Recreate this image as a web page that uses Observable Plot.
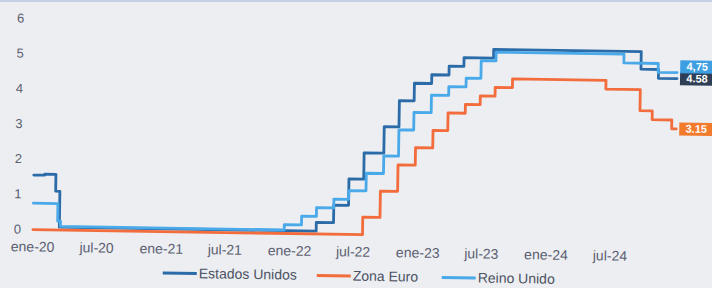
<!DOCTYPE html>
<html>
<head>
<meta charset="utf-8">
<script src="https://cdn.jsdelivr.net/npm/d3@7"></script>
<script src="https://cdn.jsdelivr.net/npm/@observablehq/plot@0.6"></script>
<style>
  html, body { margin: 0; padding: 0; background: #eceef2; overflow: hidden; }
  body { width: 712px; height: 288px; border-top: 2px solid #c3d0e6; box-sizing: border-box; }
  #wrap { position: relative; width: 712px; height: 286px; transform: rotate(0.9deg); transform-origin: 0 0; font-family: "Liberation Sans", Arial, sans-serif; }
  #legend { position: absolute; top: 259px; left: 0; width: 712px; height: 18px; font-size: 14px; color: #4d5363; }
  .item { position: absolute; top: 0; display: flex; align-items: center; height: 18px; }
  .sw { width: 34px; height: 3px; margin-right: 2px; }
</style>
</head>
<body>
<div id="wrap"><div id="chart"></div><div id="legend"></div></div>
<script>
// ---- data ----
const seriesNames = ["Estados Unidos", "Zona Euro", "Reino Unido"];
const seriesColors = ["#2b6ba8", "#f26c3c", "#4aa9e8"];
const labelColors = ["#2e3e55", "#f27a2c", "#3d9fe2"];
const endLabels = ["4.58", "3.15", "4,75"];

const usDates = ["2020-01-01","2020-02-01","2020-03-04","2020-03-16","2022-03-17","2022-05-05","2022-06-16","2022-07-28","2022-09-22","2022-11-03","2022-12-15","2023-02-02","2023-03-23","2023-05-04","2023-07-27","2024-09-19","2024-11-08","2024-12-31"];
const usRates = [1.55,1.58,1.10,0.08,0.33,0.83,1.58,2.33,3.08,3.83,4.33,4.58,4.83,5.08,5.33,4.83,4.58,4.58];

const euDates = ["2020-01-01","2022-07-27","2022-09-14","2022-11-02","2022-12-21","2023-02-08","2023-03-22","2023-05-10","2023-06-21","2023-08-02","2023-09-20","2024-06-12","2024-09-18","2024-10-23","2024-12-18","2024-12-31"];
const euRates = [0,0.5,1.25,2.0,2.5,3.0,3.5,3.75,4.0,4.25,4.5,4.25,3.65,3.4,3.15,3.15];

const ukDates = ["2020-01-01","2020-03-11","2020-03-19","2021-12-16","2022-02-03","2022-03-17","2022-05-05","2022-06-16","2022-08-04","2022-09-22","2022-11-03","2022-12-15","2023-02-02","2023-03-23","2023-05-11","2023-06-22","2023-08-03","2024-08-01","2024-11-07","2024-12-31"];
const ukRates = [0.75,0.25,0.10,0.25,0.5,0.75,1.0,1.25,1.75,2.25,3.0,3.5,4.0,4.25,4.5,5.0,5.25,5.0,4.75,4.75];

const tickDates = ["2020-01-01","2020-07-01","2021-01-01","2021-07-01","2022-01-01","2022-07-01","2023-01-01","2023-07-01","2024-01-01","2024-07-01"];
const tickLabels = ["ene-20","jul-20","ene-21","jul-21","ene-22","jul-22","ene-23","jul-23","ene-24","jul-24"];
const yTicks = [0,1,2,3,4,5,6];

// ---- build ----
const allDates = [usDates, euDates, ukDates];
const allRates = [usRates, euRates, ukRates];
const rows = [];
seriesNames.forEach((s, k) => allDates[k].forEach((d, i) => rows.push({series: s, date: new Date(d), value: allRates[k][i]})));
const lastRows = seriesNames.map((s, k) => ({series: s, date: new Date(allDates[k][allDates[k].length - 1]), value: allRates[k][allRates[k].length - 1], label: endLabels[k], k}));
const labelDy = [0, 0, -6];

const boxSymbol = { draw(ctx) { ctx.moveTo(0, -6.5); ctx.lineTo(34, -6.5); ctx.lineTo(34, 6.5); ctx.lineTo(0, 6.5); ctx.closePath(); } };
const tickMap = new Map(tickDates.map((d, i) => [+new Date(d), tickLabels[i]]));

const marks = [
  Plot.axisY({ticks: yTicks, tickFormat: d => String(d), tickSize: 0, tickPadding: 12, fontSize: 13, label: null}),
  Plot.axisX({ticks: tickDates.map(d => new Date(d)), tickFormat: d => tickMap.get(+d), tickSize: 0, tickPadding: 12, fontSize: 14, label: null}),
  ...seriesNames.map((s, k) => Plot.line(rows.filter(r => r.series === s), {x: "date", y: "value", curve: "step-after", stroke: seriesColors[k], strokeWidth: 2.8})),
  ...lastRows.map(d => Plot.dot([d], {x: "date", y: "value", symbol: boxSymbol, r: 5, fill: labelColors[d.k], stroke: null, dx: 3, dy: labelDy[d.k]})),
  ...lastRows.map(d => Plot.text([d], {x: "date", y: "value", text: "label", dx: 20, dy: labelDy[d.k], fill: "white", fontSize: 11, fontWeight: "bold", textAnchor: "middle"}))
];

const chart = Plot.plot({
  width: 712,
  height: 260,
  marginLeft: 36,
  marginRight: 34,
  marginTop: 15.5,
  marginBottom: 33.5,
  x: {type: "utc", domain: [new Date("2020-01-01"), new Date("2025-01-01")]},
  y: {domain: [0, 6]},
  style: {background: "transparent", color: "#5b6070", fontFamily: "'Liberation Sans', Arial, sans-serif", overflow: "visible"},
  marks
});
document.getElementById("chart").appendChild(chart);

// legend
const legendX = [167, 321, 446];
const legend = document.getElementById("legend");
seriesNames.forEach((s, k) => {
  const it = document.createElement("div");
  it.className = "item";
  it.style.left = legendX[k] + "px";
  const sw = document.createElement("span");
  sw.className = "sw";
  sw.style.background = seriesColors[k];
  const tx = document.createElement("span");
  tx.textContent = s;
  it.appendChild(sw); it.appendChild(tx);
  legend.appendChild(it);
});
</script>
</body>
</html>
